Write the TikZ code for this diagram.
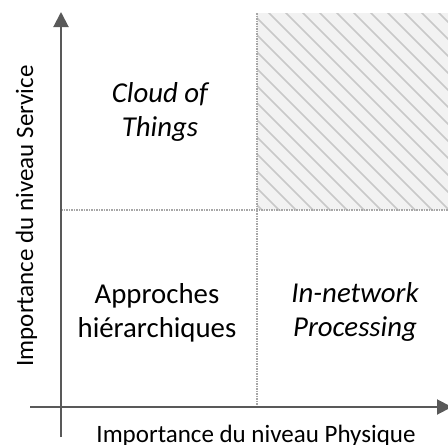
\documentclass[tikz,border=0pt]{standalone}
\usepackage{fontspec}
\setmainfont{Carlito}
\usetikzlibrary{arrows.meta}
\definecolor{axisgray}{HTML}{595959}
\definecolor{dotgray}{HTML}{A6A6A6}
\definecolor{hatchfill}{HTML}{F2F2F2}
\definecolor{hatchline}{HTML}{C8C8C8}
\begin{document}
\begin{tikzpicture}[x=1pt,y=-1pt,
  axis/.style={draw=axisgray,line width=2pt,-{Triangle[length=15pt,width=15pt]}},
  divider/.style={draw=dotgray,line width=1.5pt,dash pattern=on 1.5pt off 1pt},
  quad/.style={align=center,font=\fontsize{28.8}{34.5}\selectfont,anchor=center,inner sep=0pt},
  axlabel/.style={font=\fontsize{25}{30}\selectfont,anchor=base,inner sep=0pt}]
\useasboundingbox (0,0) rectangle (448,445);
% hatched quadrant
\fill[hatchfill] (257,13) rectangle (448,210);
\begin{scope}
  \clip (257,13) rectangle (448,210);
  \foreach \c in {-220,-203,...,460} \draw[hatchline,line width=1.5pt] (\c,0) -- ++(260,260);
\end{scope}
% coordinates
\coordinate (yb) at (61,437);
\coordinate (yt) at (61,12);
\coordinate (xl) at (30,407);
\coordinate (xr) at (452,407);
\coordinate (vt) at (257,13);
\coordinate (vb) at (257,407);
\coordinate (hl) at (61,210);
\coordinate (hr) at (448,210);
% dividers
\draw[divider] (vt) -- (vb);
\draw[divider] (hl) -- (hr);
% axes
\draw[axis] (yb) -- (yt);
\draw[axis] (xl) -- (xr);
% labels
\node[quad] (cot) at (160,112) {\itshape Cloud of\\\itshape Things};
\node[quad] (ah) at (157,313) {Approches\\hiérarchiques};
\node[quad] (inp) at (355,312) {\itshape In-network\\\itshape Processing};
\node[axlabel] (xlab) at (256,442) {Importance du niveau Physique};
\node[axlabel,rotate=90] (ylab) at (33,216) {Importance du niveau Service};
\end{tikzpicture}
\end{document}
